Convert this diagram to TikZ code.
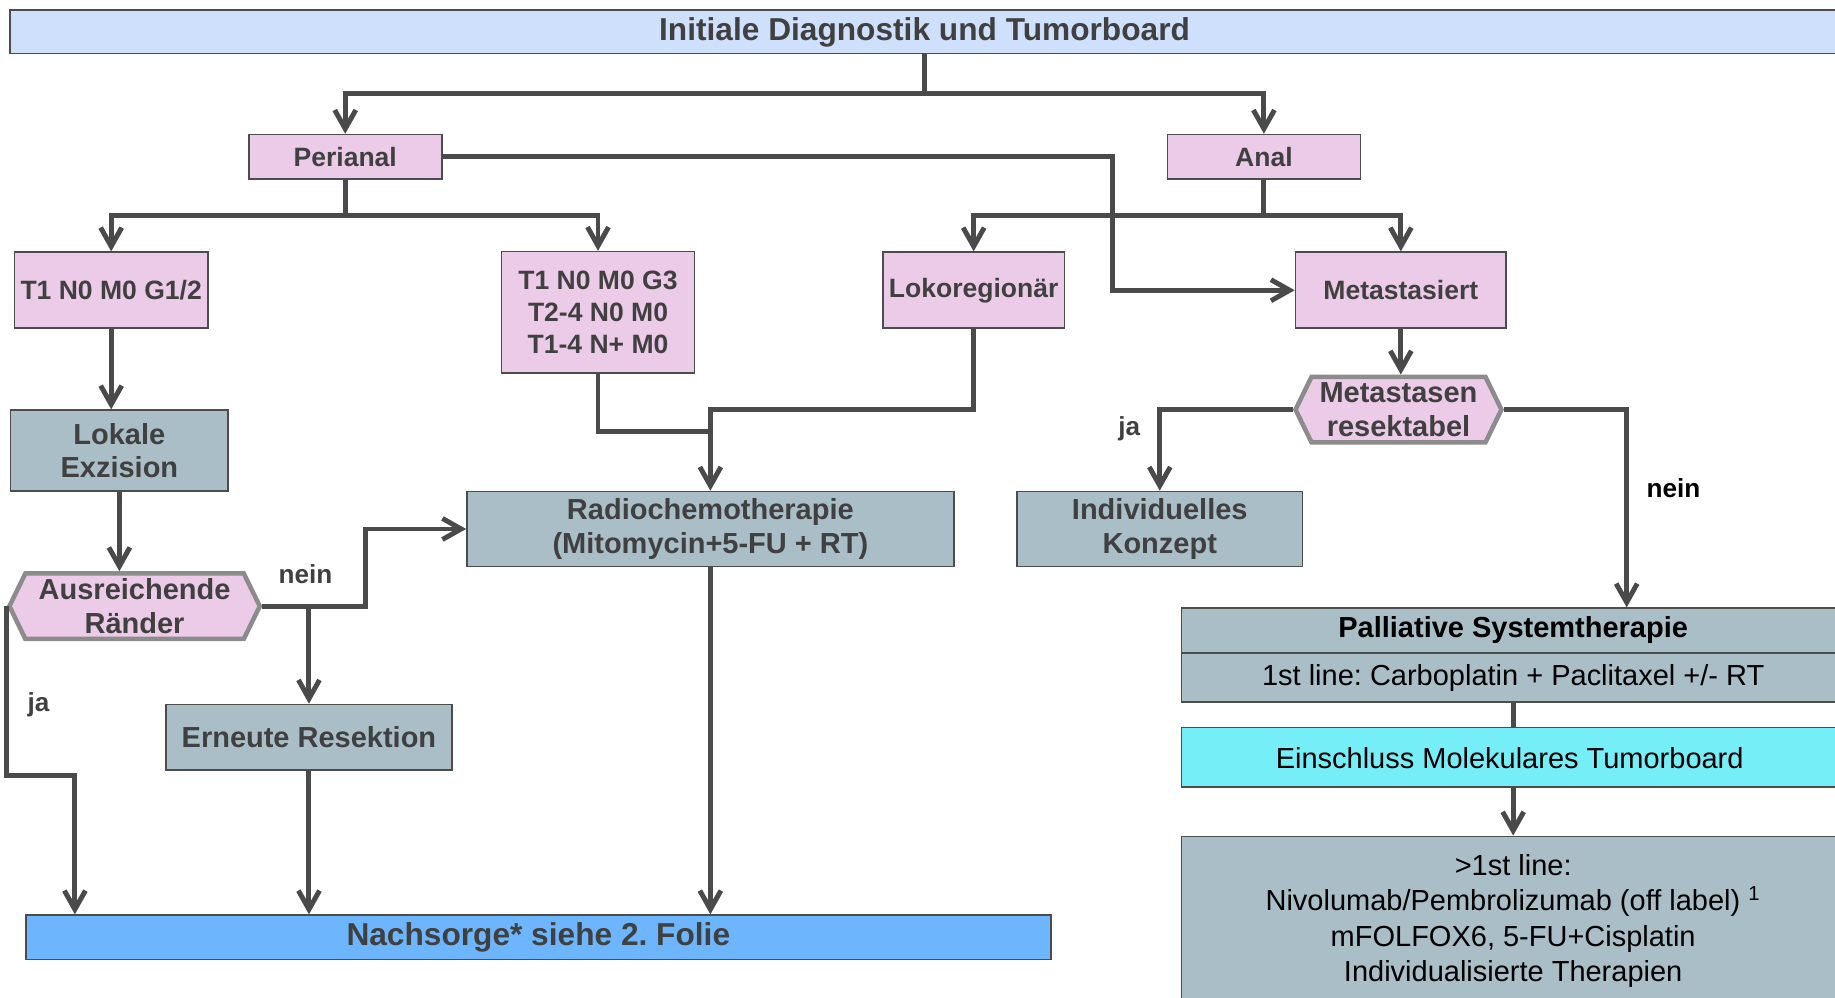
\documentclass[tikz,border=0pt]{standalone}
\usepackage{fontspec}
\setmainfont{Liberation Sans}
\usetikzlibrary{arrows.meta,shapes.symbols}
\frenchspacing
\definecolor{txt}{HTML}{404040}
\definecolor{connc}{HTML}{4A4A4A}
\definecolor{hexline}{HTML}{8C8C8C}
\definecolor{pinkfill}{HTML}{EBCBE8}
\definecolor{grayfill}{HTML}{AABEC8}
\definecolor{titlefill}{HTML}{CFE0FD}
\definecolor{nachfill}{HTML}{6DB6FE}
\definecolor{cyanfill}{HTML}{76EEF8}
\tikzset{
  base/.style={draw=black!70, line width=0.8pt, align=center, inner sep=1pt},
  pinkbox/.style={base, fill=pinkfill, text=txt, font=\fontsize{12.9}{15.4}\selectfont\bfseries},
  graybox/.style={base, fill=grayfill, text=txt, font=\fontsize{14.1}{16.4}\selectfont\bfseries},
  decision/.style={signal, signal to=east and west, signal pointer angle=128, draw=hexline, line width=2.2pt, fill=pinkfill, text=txt, align=center, inner sep=0pt, font=\fontsize{14.1}{16.4}\selectfont\bfseries},
  widebox/.style={base, anchor=north west, minimum width=11.9cm},
  link/.style={draw=connc, line width=2.4pt},
  linkarr/.style={link, -{Straight Barb[length=3.2mm,width=3.6mm]}},
  lbl/.style={text=txt, font=\fontsize{12.7}{15}\selectfont\bfseries},
}
\begin{document}
\begin{tikzpicture}[x=0.02cm, y=-0.02cm]
\useasboundingbox (0,0) rectangle (1568,852);
\node[base, fill=titlefill, anchor=north west, minimum width=31.84cm, minimum height=0.74cm] (init) at (8,8) {};
\node[text=txt, font=\fontsize{15.4}{18}\selectfont\bfseries] (initT) at (790,28) {Initiale Diagnostik und Tumorboard};
\node[pinkbox, minimum width=3.3cm, minimum height=0.76cm] (peri) at (295,134) {Perianal};
\node[pinkbox, minimum width=3.3cm, minimum height=0.76cm] (anal) at (1080,134) {Anal};
\node[pinkbox, minimum width=3.3cm, minimum height=1.3cm] (tA) at (95,248) {T1 N0 M0 G1/2};
\node[pinkbox, minimum width=3.3cm, minimum height=2.08cm] (tB) at (511,267) {T1 N0 M0 G3\\T2-4 N0 M0\\T1-4 N+ M0};
\node[pinkbox, minimum width=3.1cm, minimum height=1.3cm] (loko) at (832,248) {Lokoregionär};
\node[pinkbox, minimum width=3.6cm, minimum height=1.3cm] (meta) at (1197,248) {Metastasiert};
\node[graybox, minimum width=3.72cm, minimum height=1.38cm] (lokal) at (102,385) {Lokale\\Exzision};
\node[decision, minimum width=4.28cm, minimum height=1.12cm] (rand) at (115,518) {Ausreichende\\Ränder};
\node[graybox, minimum width=4.88cm, minimum height=1.12cm] (erneut) at (264,630) {Erneute Resektion};
\node[graybox, minimum width=8.32cm, minimum height=1.28cm] (radio) at (607,452) {Radiochemotherapie\\(Mitomycin+5-FU + RT)};
\node[base, fill=nachfill, text=txt, font=\fontsize{15.4}{18}\selectfont\bfseries, minimum width=17.52cm, minimum height=0.76cm] (nach) at (460,801) {Nachsorge* siehe 2. Folie};
\node[decision, minimum width=3.52cm, minimum height=1.12cm] (meth) at (1195,350) {Metastasen\\resektabel};
\node[graybox, minimum width=4.88cm, minimum height=1.28cm] (indiv) at (991,452) {Individuelles\\Konzept};
\node[widebox, fill=grayfill, minimum height=0.76cm] (palbox) at (1009,519) {};
\node[font=\fontsize{14.1}{16.4}\selectfont\bfseries] (palT) at (1293,538) {Palliative Systemtherapie};
\node[widebox, fill=grayfill, minimum height=0.84cm] (firstbox) at (1009,557) {};
\node[font=\fontsize{14.1}{16.4}\selectfont] (firstT) at (1293,579) {1st line: Carboplatin + Paclitaxel +/- RT};
\node[widebox, fill=cyanfill, minimum height=1.02cm] (einbox) at (1009,621) {};
\node[font=\fontsize{14.1}{16.4}\selectfont] (einT) at (1290,648) {Einschluss Molekulares Tumorboard};
\node[widebox, fill=grayfill, minimum height=3.8cm] (morebox) at (1009,714) {};
\node[font=\fontsize{14.1}{17.2}\selectfont, align=center, anchor=north] (moreT) at (1293,724) {>1st line:\\Nivolumab/Pembrolizumab (off label) \textsuperscript{1}\\mFOLFOX6, 5-FU+Cisplatin\\Individualisierte Therapien};
\node[lbl] (nein1) at (261,491) {nein};
\node[lbl] (ja1) at (33,602) {ja};
\node[lbl] (ja2) at (965,366) {ja};
\node[lbl, text=black] (nein2) at (1430,417) {nein};
\coordinate (j0) at (790,80);
\coordinate (j1) at (295,184);
\coordinate (j2) at (1080,184);
\coordinate (k1) at (951,134);
\coordinate (j3) at (607,350);
\coordinate (j4) at (607,369);
\coordinate (j5) at (312,518);
\coordinate (j6) at (8,663);
\coordinate (j7) at (64,663);
\coordinate (palin) at (1390,519);
\draw[link] (initT |- init.south) -- (j0);
\draw[linkarr] (j0) -| (peri);
\draw[linkarr] (j0) -| (anal);
\draw[link] (peri) -- (j1);
\draw[linkarr] (j1) -| (tA);
\draw[linkarr] (j1) -| (tB);
\draw[linkarr] (peri) -- (k1) |- (meta);
\draw[link] (anal) -- (j2);
\draw[linkarr] (j2) -| (loko);
\draw[linkarr] (j2) -| (meta);
\draw[linkarr] (tA) -- (tA |- lokal.north);
\draw[linkarr] (lokal) -- (lokal |- rand.north);
\draw[linkarr] (loko) |- (j3) -- (radio);
\draw[link] (tB) |- (j4);
\draw[linkarr] (rand.east) -- (j5) |- (radio);
\draw[linkarr] (rand.east -| erneut) -- (erneut);
\draw[linkarr] (rand.west) -- (rand.west |- j6) -- (j7) -- (j7 |- nach.north);
\draw[linkarr] (erneut) -- (erneut |- nach.north);
\draw[linkarr] (radio) -- (radio |- nach.north);
\draw[linkarr] (meta) -- (meta |- meth.north);
\draw[linkarr] (meth.west) -| (indiv);
\draw[linkarr] (meth.east) -| (palin);
\draw[link] (firstT |- firstbox.south) -- (firstT |- einbox.north);
\draw[linkarr] (firstT |- einbox.south) -- (firstT |- morebox.north);
\end{tikzpicture}
\end{document}
